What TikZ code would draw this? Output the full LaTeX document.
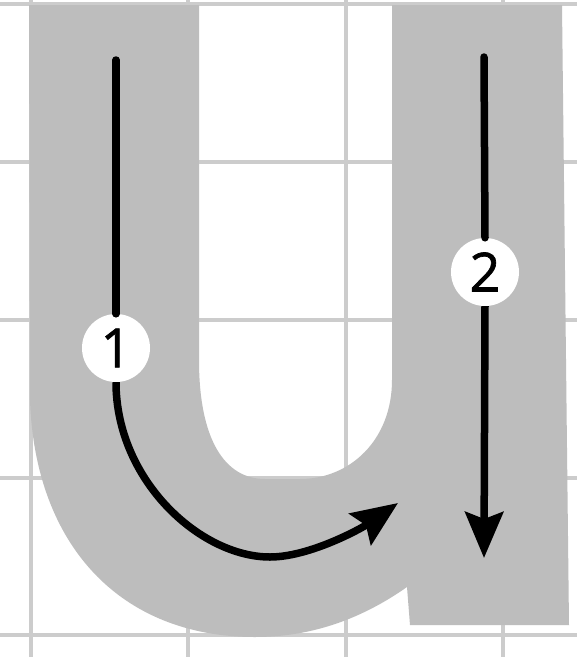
\documentclass[tikz,border=0pt]{standalone}
\usepackage{fontspec}
\setmainfont{Open Sans}
\newfontfamily\numfont[FakeBold=1.2]{Open Sans}
\usetikzlibrary{arrows.meta}
\definecolor{gridgray}{RGB}{204,204,204}
\definecolor{glyphgray}{RGB}{189,189,189}
\tikzset{
  gridline/.style={draw=gridgray,line width=3.5pt},
  stroke/.style={draw=black,line width=7.5pt,line cap=round},
  numdot/.style={circle,fill=white,inner sep=0pt,minimum size=68pt,
    font=\fontsize{54}{54}\numfont},
  tipA/.style={-{Stealth[length=46pt,width=38pt,inset=7pt]}},
}
\begin{document}
\begin{tikzpicture}[x=1pt,y=-1pt]
\useasboundingbox (0,0) rectangle (577,657);
\fill[white] (0,0) rectangle (577,657);
% grid
\foreach \gx in {31,188,346,503} \draw[gridline] (\gx,0) -- (\gx,657);
\foreach \gy in {4,162,320,478,635} \draw[gridline] (0,\gy) -- (577,\gy);
% letter u
\fill[glyphgray] (29,5) -- (199,5) -- (199,360)
  .. controls (199,440) and (225,479) .. (265,479)
  -- (300,479)
  .. controls (350,479) and (392,440) .. (392,380)
  -- (392,5) -- (562,5) -- (569,625) -- (410,625) -- (407,587)
  .. controls (360,620) and (310,637) .. (255,637)
  .. controls (120,637) and (35,545) .. (30,400) -- cycle;
% stroke markers
\coordinate (top1) at (116,60);
\coordinate (top2) at (484,57);
\coordinate (tip1) at (398,503);
\coordinate (tip2) at (484,558);
\node[numdot] (c1) at (116,348) {1};
\node[numdot] (c2) at (485,272) {2};
\draw[stroke] (top1) -- (c1.north);
\draw[stroke,line cap=butt,tipA] (c1.south)
  .. controls (116,480) and (200,557) .. (270,557)
  .. controls (310,557) and (362,528) .. (tip1);
\draw[stroke] (top2) -- (c2.north);
\draw[stroke,line cap=butt,tipA] (c2.south) -- (tip2);
\end{tikzpicture}
\end{document}
